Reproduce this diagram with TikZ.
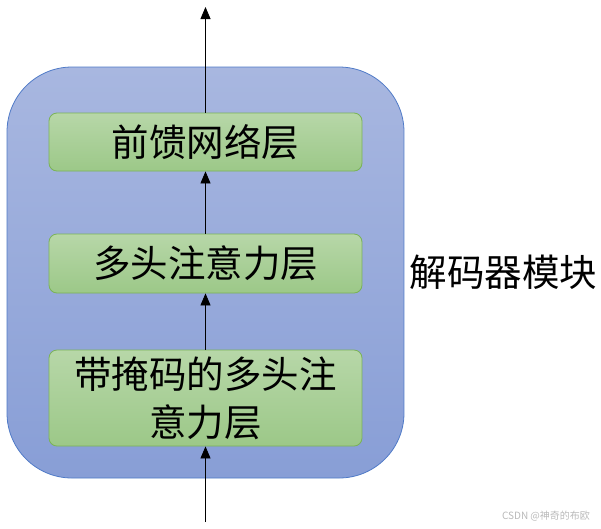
\documentclass[tikz,border=0pt]{standalone}
\usepackage{fontspec}
\newfontfamily\cjk{Noto Sans CJK SC}
\usetikzlibrary{arrows.meta,positioning}
\definecolor{blockline}{HTML}{4F7AC7}
\definecolor{blocktop}{HTML}{A8B7E0}
\definecolor{blockbot}{HTML}{889ED6}
\definecolor{layerline}{HTML}{7AB356}
\definecolor{layertop}{HTML}{B7D7A8}
\definecolor{layerbot}{HTML}{9CC888}

\begin{document}
\begin{tikzpicture}[x=1pt,y=-1pt,line width=0.8pt,
      >={Triangle[width=10pt,length=12pt]},
      every node/.style={inner sep=1pt,font=\cjk\fontsize{37.5}{48}\selectfont},
      block/.style={draw=blockline,top color=blocktop,bottom color=blockbot,
        rounded corners=65pt,minimum width=397pt,minimum height=411pt},
      layer/.style={draw=layerline,top color=layertop,bottom color=layerbot,
        rounded corners=8pt,minimum width=313pt,align=center}]
  \useasboundingbox(0,0)rectangle(601,528);
  \node[block](dec)at(205.5,272.5){};
  \node[layer,minimum height=58pt](ffn)at(205.5,142){前馈网络层};
  \node[layer,minimum height=59pt](mha)at(205.5,263.5){多头注意力层};
  \node[layer,minimum height=96pt](mmha)at(205.5,398){带掩码的多头注\\意力层};
  \node(name)at(503.5,272){解码器模块};
  \coordinate(out)at(205.5,7);
  \coordinate(in)at(205.5,522);
  \draw[->](in)--(mmha);
  \draw[->](mmha)--(mha);
  \draw[->](mha)--(ffn);
  \draw[->](ffn)--(out);
  % watermark
  \node[font=\cjk\fontsize{10}{12}\selectfont,text=gray!55](mark)at(546,516){CSDN @神奇的布欧};
\end{tikzpicture}
\end{document}
